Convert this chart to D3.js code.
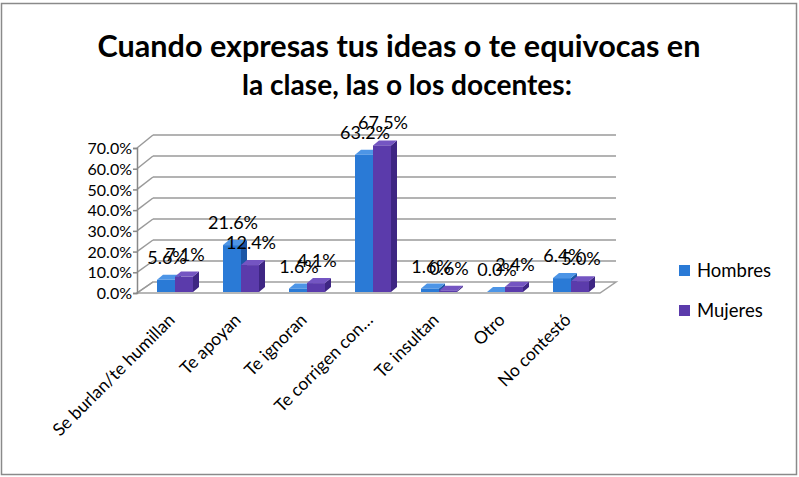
<!DOCTYPE html>
<html>
<head>
<meta charset="utf-8">
<script src="https://cdn.jsdelivr.net/npm/d3@7"></script>
<style>
  body { margin: 0; background: #fff; }
  svg { display: block; }
</style>
</head>
<body>
<div id="chart"></div>
<script>
// data
const categories = ["Se burlan/te humillan", "Te apoyan", "Te ignoran", "Te corrigen con…", "Te insultan", "Otro", "No contestó"];
const hombres = [5.6, 21.6, 1.6, 63.2, 1.6, 0.0, 6.4];
const mujeres = [7.1, 12.4, 4.1, 67.5, 0.6, 2.4, 5.0];
const seriesNames = ["Hombres", "Mujeres"];
const yTicks = [0, 10, 20, 30, 40, 50, 60, 70];
const titleLines = ["Cuando expresas tus ideas o te equivocas en", "la clase, las o los docentes:"];

var width = 799, height = 477;
var colors = {
  Hombres: { front: '#2a7ad6', side: '#1c57a6', top: '#4d95e6' },
  Mujeres: { front: '#5b3bab', side: '#3e2683', top: '#7455c2' }
};
var font = 'Lato, "Open Sans", sans-serif';

var svg = d3.select('#chart').append('svg')
  .attr('width', width)
  .attr('height', height);

// outer frame
svg.append('rect')
  .attr('x', 1.5).attr('y', 3.5)
  .attr('width', 795).attr('height', 471)
  .attr('fill', '#fff')
  .attr('stroke', '#8a8a8a')
  .attr('stroke-width', 1.5);

// title, squeezed to the width it has in the picture
var titleWidths = [603, 330];
var titleX = [399, 407];
var titleY = [57, 95];
titleLines.forEach(function(t, i){
  var txt = svg.append('text')
    .attr('x', titleX[i]).attr('y', titleY[i])
    .attr('text-anchor', 'middle')
    .style('font-family', font)
    .style('font-weight', 'bold')
    .style('font-size', '27px')
    .text(t);
  var w = txt.node().getComputedTextLength();
  txt.style('font-size', (27 * titleWidths[i] / w) + 'px');
});

// 3d frame geometry
var x0 = 137, x1 = 600;     // front floor edge
var depth = { dx: 16, dy: -12 };
var yFront = d3.scaleLinear().domain([0, 70]).range([293, 148]);
var yBack = d3.scaleLinear().domain([0, 70]).range([282, 135]);
var yBar = d3.scaleLinear().domain([0, 70]).range([292, 140]);

var x = d3.scaleBand().domain(categories).range([142, 604]);
var xs = d3.scaleBand().domain(seriesNames).range([-18, 18]);

var frame = svg.append('g');

// floor
frame.append('path')
  .attr('d', 'M' + x0 + ',' + yFront(0) + 'L' + x1 + ',' + yFront(0) +
             'L' + (x1 + depth.dx) + ',' + yBack(0) + 'L' + (x0 + depth.dx) + ',' + yBack(0) + 'Z')
  .attr('fill', '#fff')
  .attr('stroke', '#a0a0a0')
  .attr('stroke-width', 1.5);

// back wall gridlines + left wall diagonals
yTicks.forEach(function(t){
  if(t > 0){
    frame.append('line')
      .attr('x1', x0 + depth.dx).attr('x2', x1 + depth.dx)
      .attr('y1', yBack(t)).attr('y2', yBack(t))
      .attr('stroke', '#9a9a9a').attr('stroke-width', 1.5);
  }
  frame.append('line')
    .attr('x1', x0).attr('y1', yFront(t))
    .attr('x2', x0 + depth.dx).attr('y2', yBack(t))
    .attr('stroke', '#9a9a9a').attr('stroke-width', 1.5);
});

// front value axis
var yAxis = d3.axisLeft(yFront)
  .tickValues(yTicks)
  .tickSize(4)
  .tickFormat(function(d){ return d3.format('.1f')(d) + '%'; });
var axisG = svg.append('g')
  .attr('transform', 'translate(' + x0 + ',0)')
  .call(yAxis);
axisG.select('.domain').attr('stroke', '#888').attr('stroke-width', 1.5);
axisG.selectAll('.tick line').attr('stroke', '#888').attr('stroke-width', 1.5);
axisG.selectAll('.tick text')
  .attr('x', -5)
  .attr('dy', '0.35em')
  .style('font-family', font)
  .style('font-size', '16px')
  .attr('fill', '#000');

// bars
var bd = { dx: 6, dy: -5 };
var rows = [];
categories.forEach(function(c, i){
  rows.push({ cat: c, s: 'Hombres', v: hombres[i] });
  rows.push({ cat: c, s: 'Mujeres', v: mujeres[i] });
});

var bars = svg.append('g').selectAll('g.bar')
  .data(rows)
  .enter().append('g')
  .attr('class', 'bar');

bars.each(function(d){
  var g = d3.select(this);
  var cx = x(d.cat) + x.bandwidth() / 2;
  var l = cx + xs(d.s), r = l + xs.bandwidth();
  var b = yBar(0), t = yBar(d.v);
  var c = colors[d.s];
  // side
  g.append('path')
    .attr('d', 'M' + r + ',' + b + 'L' + (r + bd.dx) + ',' + (b + bd.dy) +
               'L' + (r + bd.dx) + ',' + (t + bd.dy) + 'L' + r + ',' + t + 'Z')
    .attr('fill', c.side);
  // top
  g.append('path')
    .attr('d', 'M' + l + ',' + t + 'L' + r + ',' + t + 'L' + (r + bd.dx) + ',' + (t + bd.dy) +
               'L' + (l + bd.dx) + ',' + (t + bd.dy) + 'Z')
    .attr('fill', c.top);
  // front
  g.append('rect')
    .attr('x', l).attr('y', t)
    .attr('width', xs.bandwidth())
    .attr('height', Math.max(b - t, 0))
    .attr('fill', c.front);
});

// value labels
svg.append('g').selectAll('text')
  .data(rows)
  .enter().append('text')
  .attr('x', function(d){ return x(d.cat) + x.bandwidth() / 2 + xs(d.s) + xs.bandwidth() / 2 + 1; })
  .attr('y', function(d){ return yBar(d.v) - 16; })
  .attr('text-anchor', 'middle')
  .style('font-family', font)
  .style('font-size', '18px')
  .text(function(d){ return d3.format('.1f')(d.v) + '%'; });

// category labels, rotated
svg.append('g').selectAll('text')
  .data(categories)
  .enter().append('text')
  .attr('transform', function(d){
    return 'translate(' + (x(d) + x.bandwidth() / 2 + 1) + ',321) rotate(-45)';
  })
  .attr('text-anchor', 'end')
  .style('font-family', font)
  .style('font-size', '17.5px')
  .text(function(d){ return d; });

// legend
var legend = svg.append('g').selectAll('g')
  .data(seriesNames)
  .enter().append('g')
  .attr('transform', function(d, i){ return 'translate(679,' + (265 + i * 40) + ')'; });
legend.append('rect')
  .attr('width', 11).attr('height', 11)
  .attr('fill', function(d){ return colors[d].front; });
legend.append('text')
  .attr('x', 18).attr('y', 12)
  .style('font-family', font)
  .style('font-size', '18.5px')
  .text(function(d){ return d; });
</script>
</body>
</html>
